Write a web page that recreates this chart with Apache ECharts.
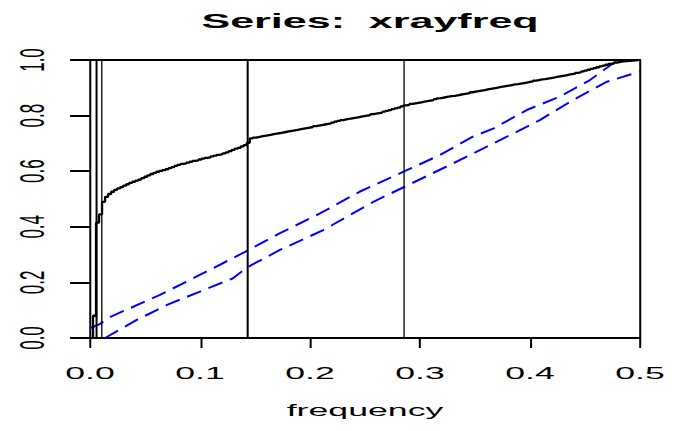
<!DOCTYPE html>
<html>
<head>
<meta charset="utf-8">
<script src="https://cdn.jsdelivr.net/npm/echarts@6/dist/echarts.min.js"></script>
<style>
  html, body { margin: 0; padding: 0; background: #ffffff; }
  #wrap { width: 678px; height: 431px; overflow: hidden; position: relative; }
  #c { width: 323px; height: 431px; overflow: visible; }
  #c div { overflow: visible !important; }
  #c svg { width: 678px !important; height: 431px !important; }
  #c svg path { vector-effect: non-scaling-stroke; }
</style>
</head>
<body>
<div id="wrap"><div id="c"></div></div>
<script>
// ---- data ----
const titleText = 'Series:  xrayfreq';
const xAxisTitle = 'frequency';
const nObs = 365; // frequency grid k / nObs
const xTickLabels = ['0.0', '0.1', '0.2', '0.3', '0.4', '0.5'];
const yTickLabels = ['0.0', '0.2', '0.4', '0.6', '0.8', '1.0'];

// cumulative periodogram, one value per Fourier frequency k/365, k = 0..182
const cumVals = [
  0, 0.08, 0.415, 0.445, 0.49, 0.508, 0.518, 0.526, 0.533, 0.538,
  0.543, 0.548, 0.553, 0.558, 0.562, 0.566, 0.570, 0.575, 0.580, 0.585,
  0.590, 0.594, 0.598, 0.601, 0.604, 0.607, 0.611, 0.615, 0.619, 0.623,
  0.626, 0.628, 0.631, 0.634, 0.637, 0.639, 0.642, 0.645, 0.648, 0.650,
  0.653, 0.656, 0.659, 0.661, 0.664, 0.668, 0.672, 0.677, 0.681, 0.684,
  0.689, 0.694, 0.702, 0.718, 0.721, 0.723, 0.725, 0.727, 0.729, 0.731,
  0.733, 0.735, 0.737, 0.739, 0.741, 0.743, 0.745, 0.747, 0.749, 0.751,
  0.753, 0.755, 0.757, 0.759, 0.762, 0.764, 0.766, 0.768, 0.770, 0.772,
  0.775, 0.778, 0.781, 0.784, 0.786, 0.788, 0.790, 0.792, 0.794, 0.796,
  0.798, 0.800, 0.802, 0.805, 0.807, 0.809, 0.811, 0.814, 0.817, 0.820,
  0.823, 0.826, 0.829, 0.833, 0.837, 0.839, 0.842, 0.844, 0.846, 0.848,
  0.850, 0.852, 0.854, 0.856, 0.859, 0.862, 0.864, 0.866, 0.868, 0.870,
  0.871, 0.873, 0.875, 0.877, 0.879, 0.881, 0.884, 0.886, 0.888, 0.890,
  0.892, 0.894, 0.896, 0.898, 0.900, 0.902, 0.904, 0.906, 0.908, 0.910,
  0.912, 0.913, 0.915, 0.917, 0.919, 0.921, 0.923, 0.926, 0.928, 0.930,
  0.931, 0.933, 0.935, 0.937, 0.939, 0.941, 0.943, 0.945, 0.947, 0.949,
  0.951, 0.954, 0.956, 0.959, 0.962, 0.965, 0.968, 0.971, 0.974, 0.977,
  0.980, 0.983, 0.986, 0.988, 0.991, 0.993, 0.995, 0.996, 0.997, 0.998,
  0.999, 0.9995, 1.0
];

// upper and lower dashed blue bands
const upperFreq = [0, 0.0087, 0.019, 0.0636, 0.109, 0.141, 0.1727, 0.209, 0.245, 0.286, 0.318, 0.348, 0.367, 0.397, 0.427, 0.4545, 0.479];
const upperVal  = [0.035, 0.05, 0.077, 0.155, 0.245, 0.31, 0.377, 0.448, 0.526, 0.60, 0.658, 0.724, 0.754, 0.82, 0.868, 0.928, 0.998];
const lowerFreq = [0.0136, 0.0425, 0.07, 0.1, 0.13, 0.1424, 0.1727, 0.212, 0.2576, 0.286, 0.330, 0.379, 0.409, 0.439, 0.470, 0.5];
const lowerVal  = [0, 0.065, 0.119, 0.167, 0.215, 0.253, 0.317, 0.388, 0.49, 0.544, 0.628, 0.724, 0.784, 0.856, 0.922, 0.958];

// vertical reference frequencies (half-year, quarter-year, 1/7, 2/7)
const refFreqs = [0.00548, 0.01096, 0.142857, 0.285714];
const refBold  = [true, false, true, false];

// ---- chart ----
const FONT = '"Liberation Sans", Arial, Helvetica, sans-serif';
const chart = echarts.init(document.getElementById('c'), null, { renderer: 'svg', width: 323, height: 431 });

const stepData = cumVals.map((v, k) => [k / nObs, v]);
const upperData = upperFreq.map((f, i) => [f, upperVal[i]]);
const lowerData = lowerFreq.map((f, i) => [f, lowerVal[i]]);

const axisLineStyle = { color: '#000', width: 2 };

chart.setOption({
  animation: false,
  backgroundColor: '#ffffff',
  grid: { left: 42.88, right: 18.1, top: 60, bottom: 93, containLabel: false },
  xAxis: [
    {
      type: 'value', min: 0, max: 0.5, interval: 0.1, position: 'bottom',
      axisLine: { show: true, onZero: false, lineStyle: axisLineStyle },
      axisTick: { show: true, length: 10, lineStyle: { color: '#000', width: 2 } },
      axisLabel: {
        show: true, margin: 27, color: '#000', fontSize: 17, fontFamily: FONT,
        formatter: v => xTickLabels[Math.round(v * 10)]
      },
      splitLine: { show: false }
    },
    {
      type: 'value', min: 0, max: 0.5, position: 'top',
      axisLine: { show: true, onZero: false, lineStyle: axisLineStyle },
      axisTick: { show: false }, axisLabel: { show: false }, splitLine: { show: false }
    }
  ],
  yAxis: [
    {
      type: 'value', min: 0, max: 1, interval: 0.2, position: 'left',
      axisLine: { show: true, onZero: false, lineStyle: axisLineStyle },
      axisTick: { show: true, length: 9.5, lineStyle: { color: '#000', width: 2 } },
      axisLabel: {
        show: true, rotate: 90, margin: 19, color: '#000', fontSize: 17, fontFamily: FONT,
        formatter: v => yTickLabels[Math.round(v * 5)]
      },
      splitLine: { show: false }
    },
    {
      type: 'value', min: 0, max: 1, position: 'right',
      axisLine: { show: true, onZero: false, lineStyle: axisLineStyle },
      axisTick: { show: false }, axisLabel: { show: false }, splitLine: { show: false }
    }
  ],
  graphic: [
    {
      type: 'text', x: 176.3, y: 21, silent: true,
      style: { text: titleText, x: 0, y: 0, align: 'center', verticalAlign: 'middle',
               font: 'bold 20.5px ' + FONT, fill: '#000' }
    },
    {
      type: 'text', x: 173.9, y: 410, silent: true,
      style: { text: xAxisTitle, x: 0, y: 0, align: 'center', verticalAlign: 'middle',
               font: '17px ' + FONT, fill: '#000' }
    }
  ],
  series: [
    {
      type: 'line', step: 'end', data: stepData, showSymbol: false, symbol: 'none',
      xAxisIndex: 0, yAxisIndex: 0, silent: true,
      lineStyle: { color: '#000', width: 2.3 },
      markLine: {
        silent: true, precision: 6, symbol: ['none', 'none'], label: { show: false },
        data: refFreqs.map((f, i) => ({
          xAxis: f,
          lineStyle: { color: '#000', type: 'solid', width: refBold[i] ? 2 : 1.3 }
        }))
      },
      z: 3
    },
    {
      type: 'line', data: upperData, showSymbol: false, symbol: 'none', silent: true,
      lineStyle: { color: '#0000ff', width: 2, type: [15, 8] }, z: 2
    },
    {
      type: 'line', data: lowerData, showSymbol: false, symbol: 'none', silent: true,
      lineStyle: { color: '#0000ff', width: 2, type: [15, 8] }, z: 2
    }
  ]
});

function stretch() {
  const svg = document.querySelector('#c svg');
  if (!svg) return;
  svg.setAttribute('viewBox', '0 0 323 431');
  svg.setAttribute('preserveAspectRatio', 'none');
  svg.setAttribute('width', '678');
  svg.setAttribute('height', '431');
}
stretch();
chart.on('finished', stretch);
</script>
</body>
</html>
